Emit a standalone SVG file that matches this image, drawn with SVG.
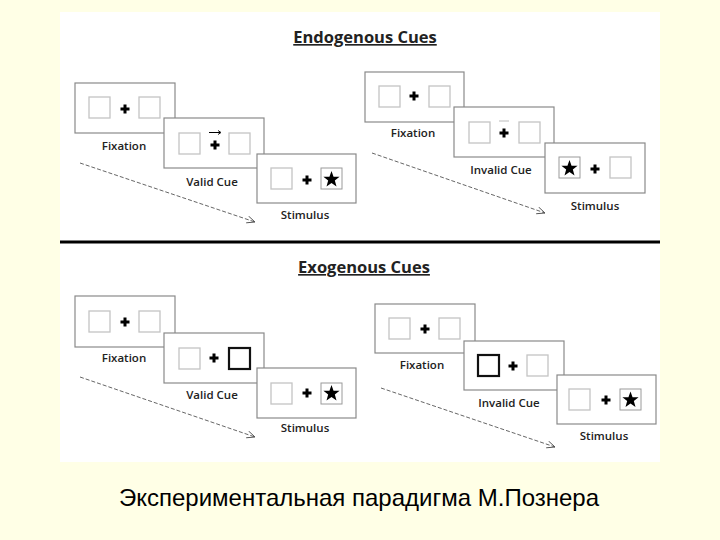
<svg xmlns="http://www.w3.org/2000/svg" width="720" height="540" viewBox="0 0 720 540">
<style>
.frame{fill:#fff;stroke:#8a8a8a;stroke-width:1.2}
.sq{fill:#fff;stroke:#c4c4c4;stroke-width:1.3}
.sqs{fill:#fff;stroke:#9a9a9a;stroke-width:1}
.sqb{fill:#fff;stroke:#111;stroke-width:2.2}
.lbl{font-family:"Open Sans","Liberation Sans",sans-serif;font-weight:600;font-size:11.5px;fill:#222;text-anchor:middle}
.title{font-family:"Open Sans","Liberation Sans",sans-serif;font-weight:700;font-size:16.5px;fill:#222;text-anchor:middle;text-decoration:underline}
.dash{fill:none;stroke:#555;stroke-width:0.9;stroke-dasharray:4 2}
</style>
<defs>
<path id="plus" d="M-4.5,0H4.5M0,-4.5V4.5" stroke="#000" stroke-width="3"/>
<path id="star" d="M0,-8.5 L2.06,-2.84 L8.08,-2.63 L3.34,1.08 L5.0,6.88 L0,3.5 L-5.0,6.88 L-3.34,1.08 L-8.08,-2.63 L-2.06,-2.84 Z" fill="#000"/>
<marker id="ah" viewBox="0 0 10 10" refX="9" refY="5" markerWidth="9" markerHeight="9" orient="auto" markerUnits="userSpaceOnUse">
<path d="M0,1 L9,5 L0,9" fill="none" stroke="#555" stroke-width="1"/>
</marker>
</defs>
<rect width="720" height="540" fill="#FFFFE6"/>
<rect x="60" y="12" width="600" height="450" fill="#fff"/>
<g id="titles">
<text class="title" x="365" y="43">Endogenous Cues</text>
<text class="title" x="364" y="273">Exogenous Cues</text>
</g>
<line x1="60" y1="242" x2="660" y2="242" stroke="#000" stroke-width="3"/>
<g id="connectors">
<line class="dash" x1="80" y1="163" x2="255" y2="222" marker-end="url(#ah)"/>
<line class="dash" x1="372" y1="153" x2="545" y2="213" marker-end="url(#ah)"/>
<line class="dash" x1="80" y1="377" x2="255" y2="437" marker-end="url(#ah)"/>
<line class="dash" x1="381" y1="388" x2="555" y2="447" marker-end="url(#ah)"/>
</g>
<g id="endo-fixation">
<rect class="frame" x="75" y="83" width="100" height="50"/>
<rect class="sq" x="89" y="97" width="21" height="21"/>
<rect class="sq" x="139" y="97" width="21" height="21"/>
<use href="#plus" x="125" y="109"/>
<text class="lbl" x="124" y="150">Fixation</text>
</g>
<g id="endo-valid-cue">
<rect class="frame" x="164" y="118" width="100" height="50"/>
<rect class="sq" x="179" y="133" width="21" height="21"/>
<rect class="sq" x="229" y="133" width="21" height="21"/>
<use href="#plus" x="215" y="145"/>
<line x1="209" y1="132.5" x2="220" y2="132.5" stroke="#000" stroke-width="1"/>
<path d="M218,130.5 L221,132.5 L218,134.5" fill="none" stroke="#000" stroke-width="0.9"/>
<text class="lbl" x="212" y="186">Valid Cue</text>
</g>
<g id="endo-stimulus">
<rect class="frame" x="257" y="154" width="99" height="49"/>
<rect class="sq" x="271" y="168" width="21" height="21"/>
<rect class="sqs" x="321" y="168" width="21" height="21"/>
<use href="#plus" x="307" y="180"/>
<use href="#star" x="331.5" y="179.5"/>
<text class="lbl" x="305" y="219">Stimulus</text>
</g>
<g id="endo2-fixation">
<rect class="frame" x="365" y="72" width="99" height="50"/>
<rect class="sq" x="379" y="86" width="21" height="21"/>
<rect class="sq" x="429" y="86" width="21" height="21"/>
<use href="#plus" x="414" y="96"/>
<text class="lbl" x="413" y="137">Fixation</text>
</g>
<g id="endo-invalid-cue">
<rect class="frame" x="454" y="107" width="100" height="50"/>
<rect class="sq" x="469" y="122" width="21" height="21"/>
<rect class="sq" x="519" y="122" width="21" height="21"/>
<use href="#plus" x="504" y="133"/>
<line x1="499" y1="121" x2="509" y2="121" stroke="#bbb" stroke-width="1"/>
<text class="lbl" x="501" y="174">Invalid Cue</text>
</g>
<g id="endo2-stimulus">
<rect class="frame" x="545" y="143" width="100" height="50"/>
<rect class="sqs" x="559" y="157" width="21" height="21"/>
<rect class="sq" x="610" y="157" width="21" height="21"/>
<use href="#plus" x="595" y="169"/>
<use href="#star" x="569.5" y="168.5"/>
<text class="lbl" x="595" y="210">Stimulus</text>
</g>
<g id="exo-fixation">
<rect class="frame" x="75" y="296" width="100" height="51"/>
<rect class="sq" x="89" y="311" width="21" height="21"/>
<rect class="sq" x="139" y="311" width="21" height="21"/>
<use href="#plus" x="125" y="322"/>
<text class="lbl" x="124" y="362">Fixation</text>
</g>
<g id="exo-valid-cue">
<rect class="frame" x="164" y="333" width="100" height="50"/>
<rect class="sq" x="179" y="348" width="21" height="21"/>
<rect class="sqb" x="229" y="348" width="21" height="21"/>
<use href="#plus" x="214" y="358"/>
<text class="lbl" x="212" y="399">Valid Cue</text>
</g>
<g id="exo-stimulus">
<rect class="frame" x="257" y="368" width="99" height="50"/>
<rect class="sq" x="271" y="383" width="21" height="21"/>
<rect class="sqs" x="321" y="383" width="21" height="21"/>
<use href="#plus" x="307" y="393"/>
<use href="#star" x="331.5" y="393.5"/>
<text class="lbl" x="305" y="432">Stimulus</text>
</g>
<g id="exo2-fixation">
<rect class="frame" x="375" y="304" width="100" height="49"/>
<rect class="sq" x="389" y="318" width="21" height="21"/>
<rect class="sq" x="439" y="318" width="21" height="21"/>
<use href="#plus" x="425" y="329"/>
<text class="lbl" x="422" y="369">Fixation</text>
</g>
<g id="exo-invalid-cue">
<rect class="frame" x="464" y="341" width="100" height="49"/>
<rect class="sqb" x="478" y="355" width="21" height="21"/>
<rect class="sq" x="527" y="355" width="21" height="21"/>
<use href="#plus" x="513" y="366"/>
<text class="lbl" x="509" y="407">Invalid Cue</text>
</g>
<g id="exo2-stimulus">
<rect class="frame" x="557" y="375" width="99" height="49"/>
<rect class="sq" x="569" y="389" width="21" height="21"/>
<rect class="sqs" x="620" y="389" width="21" height="21"/>
<use href="#plus" x="606" y="400"/>
<use href="#star" x="630.5" y="400"/>
<text class="lbl" x="604" y="440">Stimulus</text>
</g>
<text x="359" y="506" font-family="Liberation Sans, Arial, sans-serif" font-size="24" fill="#000" text-anchor="middle">Экспериментальная парадигма М.Познера</text>
</svg>
